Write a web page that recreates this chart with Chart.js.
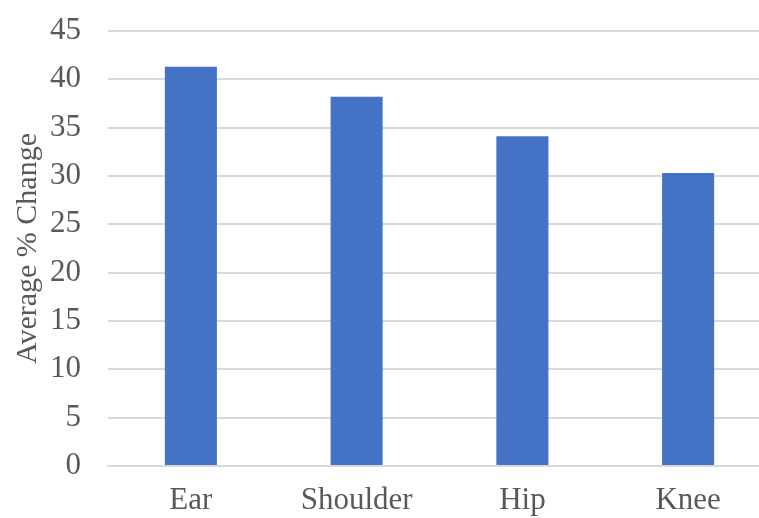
<!DOCTYPE html>
<html>
<head>
<meta charset="utf-8">
<script src="https://cdn.jsdelivr.net/npm/chart.js@4"></script>
<style>
  html, body { margin: 0; padding: 0; background: #fff; overflow: hidden; }
  #wrap { width: 771px; height: 518px; }
</style>
</head>
<body>
<div id="wrap"><canvas id="myChart" width="771" height="518"></canvas></div>
<script>
// categories and values
var categories = ['Ear', 'Shoulder', 'Hip', 'Knee'];
var avgChange = [41.3, 38.2, 34.1, 30.3];
var yTicks = [0, 5, 10, 15, 20, 25, 30, 35, 40, 45];

var fontFamily = '"Liberation Serif", "Times New Roman", serif';

var ctx = document.getElementById('myChart').getContext('2d');
var chart = new Chart(ctx, {
  type: 'bar',
  data: {
    labels: categories,
    datasets: [{
      label: 'Average % Change',
      backgroundColor: '#4472C4',
      data: avgChange,
      categoryPercentage: 1,
      barPercentage: 0.314
    }]
  },
  options: {
    responsive: false,
    animation: false,
    layout: { padding: { top: 31, left: 0, right: 0, bottom: 0 } },
    plugins: { legend: { display: false }, tooltip: { enabled: false } },
    scales: {
      x: {
        grid: { display: false, drawTicks: false },
        border: { display: true, color: '#d9d9d9', width: 2 },
        ticks: { color: '#595959', font: { family: fontFamily, size: 31 }, padding: 16 },
        afterFit: function(axis) { axis.height = 52; axis.paddingLeft = 0; axis.paddingRight = 0; }
      },
      y: {
        min: 0,
        max: 45,
        afterBuildTicks: function(axis) {
          axis.ticks = yTicks.map(function(v) { return { value: v }; });
        },
        grid: { color: '#d9d9d9', lineWidth: 2, drawTicks: false },
        border: { display: false },
        ticks: { color: '#595959', font: { family: fontFamily, size: 31 }, padding: 27 },
        title: {
          display: true,
          text: 'Average % Change',
          color: '#595959',
          font: { family: fontFamily, size: 30 },
          padding: { top: 10, bottom: 0 }
        },
        afterFit: function(axis) { axis.width = 108; axis.paddingTop = 0; axis.paddingBottom = 0; }
      }
    }
  }
});
</script>
</body>
</html>
